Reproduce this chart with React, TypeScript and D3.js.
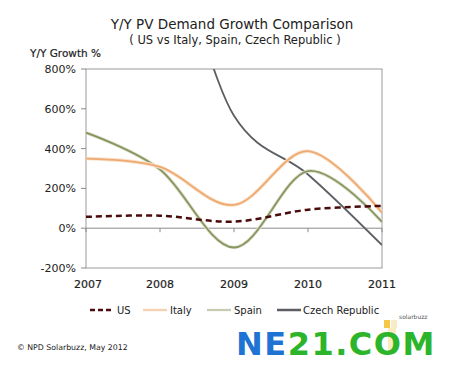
import React from "react";
import * as d3 from "d3";

const years = [2007, 2008, 2009, 2010, 2011];
const yTicks = [-200, 0, 200, 400, 600, 800];
const usValues = [57, 63, 33, 93, 112];
const italyValues = [350, 308, 117, 387, 78];
const spainValues = [480, 295, -97, 287, 32];
const czechValues = [1000, 1450, 565, 270, -85];

const seriesNames = ["US", "Italy", "Spain", "Czech Republic"];

const W = 450, H = 368;
const L = 86, R = 382, T = 69, B = 268;
const FONT = "'DejaVu Sans', Verdana, sans-serif";

export default function App() {
  const x = d3.scaleLinear().domain([2007, 2011]).range([L, R]);
  const y = d3.scaleLinear().domain([-200, 800]).range([B, T]);
  const line = d3
    .line<number>()
    .x((_, i) => x(years[i]))
    .y((d) => y(d))
    .curve(d3.curveCardinal.tension(0));

  const series = [
    { name: seriesNames[0], values: usValues, color: "#4a0b0b", dash: "6,4", width: 2.5, halo: null },
    { name: seriesNames[1], values: italyValues, color: "#eeaa70", dash: null, width: 1.8, halo: "#f8e2cc" },
    { name: seriesNames[2], values: spainValues, color: "#88955f", dash: null, width: 1.8, halo: "#e0e4d2" },
    { name: seriesNames[3], values: czechValues, color: "#5c5e63", dash: null, width: 1.8, halo: null },
  ];
  const drawOrder = [3, 2, 1, 0];

  const legendPos = [
    { lx: 90, tx: 117 },
    { lx: 143, tx: 170 },
    { lx: 207, tx: 234 },
    { lx: 277, tx: 303 },
  ];

  return (
    <svg width={W} height={H} style={{ position: "absolute", left: 0, top: 0, background: "#fff" }} fontFamily={FONT}>
      <rect x={0} y={0} width={W} height={H} fill="#fff" />
      <defs>
        <clipPath id="plot">
          <rect x={L} y={T} width={R - L} height={B - T} />
        </clipPath>
      </defs>
      <text x={232} y={29} textAnchor="middle" fontSize={13.5} fill="#222">
        Y/Y PV Demand Growth Comparison
      </text>
      <text x={235} y={44} textAnchor="middle" fontSize={11.5} fill="#222">
        ( US vs Italy, Spain, Czech Republic )
      </text>
      <text x={30} y={57} fontSize={10.5} fill="#222" stroke="#222" strokeWidth={0.2}>Y/Y Growth %</text>

      {/* frame */}
      <rect x={L} y={T} width={R - L} height={B - T} fill="none" stroke="#9a9a9a" strokeWidth={1} />
      {/* zero line */}
      <line x1={L} x2={R} y1={y(0)} y2={y(0)} stroke="#8a8a8a" strokeWidth={1} />
      {years.map((yr) => (
        <line key={yr} x1={x(yr)} x2={x(yr)} y1={y(0)} y2={y(0) + 4} stroke="#8a8a8a" />
      ))}
      {yTicks.map((t) => (
        <g key={t}>
          <line x1={L - 5} x2={L} y1={y(t)} y2={y(t)} stroke="#8a8a8a" />
          <text x={L - 10} y={y(t) + 4} textAnchor="end" fontSize={11} fill="#222">
            {t}%
          </text>
        </g>
      ))}
      {years.map((yr) => (
        <text key={yr} x={x(yr) + (yr === 2007 ? 2 : 0)} y={288} textAnchor="middle" fontSize={11} fill="#222" stroke="#222" strokeWidth={0.2}>
          {yr}
        </text>
      ))}

      <g clipPath="url(#plot)">
        {drawOrder.map((i) => {
          const s = series[i];
          const d = line(s.values) || "";
          return (
            <g key={s.name}>
              {s.halo && <path d={d} fill="none" stroke={s.halo} strokeWidth={s.width + 1.8} />}
              <path d={d} fill="none" stroke={s.color} strokeWidth={s.width} strokeDasharray={s.dash || undefined} />
            </g>
          );
        })}
      </g>

      {/* legend */}
      {series.map((s, i) => (
        <g key={s.name}>
          <line
            x1={legendPos[i].lx}
            x2={legendPos[i].lx + 24}
            y1={310}
            y2={310}
            stroke={s.halo ? s.halo : s.color}
            strokeWidth={s.dash ? 2.6 : 2.5}
            strokeDasharray={s.dash ? "5,3" : undefined}
          />
          {s.halo && (
            <line x1={legendPos[i].lx} x2={legendPos[i].lx + 24} y1={310} y2={310} stroke={s.color} strokeWidth={1} opacity={0.6} />
          )}
          <text x={legendPos[i].tx} y={313.5} fontSize={10} fill="#222">
            {s.name}
          </text>
        </g>
      ))}

      <text x={17} y={350} fontSize={7.8} fill="#222">© NPD Solarbuzz, May 2012</text>

      {/* watermark */}
      <rect x={384} y={320} width={6} height={8} fill="#f3b81c" opacity={0.8} />
      <rect x={391} y={320} width={6} height={8} fill="#f6e7b8" opacity={0.8} />
      <rect x={388} y={328} width={8} height={26} fill="#f6d788" opacity={0.5} />
      <text x={236} y={355} fontSize={32} fontWeight="bold" fontFamily="'DejaVu Sans', sans-serif" letterSpacing={1.5}>
        <tspan fill="#1f73d2">NE</tspan>
        <tspan fill="#2cb52a">21.COM</tspan>
      </text>
      <text x={399} y={319} fontSize={6} fill="#555">solarbuzz</text>
    </svg>
  );
}
